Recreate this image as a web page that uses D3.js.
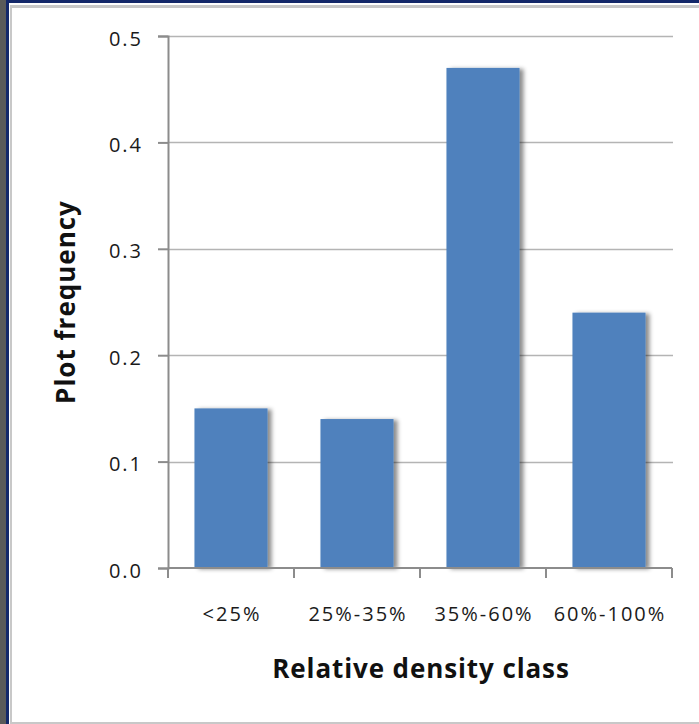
<!DOCTYPE html>
<html>
<head>
<meta charset="utf-8">
<script src="https://cdn.jsdelivr.net/npm/d3@7/dist/d3.min.js"></script>
<style>
  html, body { margin: 0; padding: 0; background: #fff; }
  svg { display: block; }
  text { font-family: "Open Sans", Lato, sans-serif; }
</style>
</head>
<body>
<svg id="chart" width="699" height="724"></svg>
<script>
// Plot frequency by relative density class
const categories = ["<25%", "25%-35%", "35%-60%", "60%-100%"];
const frequency = [0.15, 0.14, 0.47, 0.24];
const yTicks = [0.0, 0.1, 0.2, 0.3, 0.4, 0.5];

const W = 699, H = 724;
const margin = { left: 168, right: 27, top: 36, bottom: 156 };
const svg = d3.select("#chart");

// window frame along the left and top edges
svg.append("rect").attr("x", 0).attr("y", 0).attr("width", W).attr("height", H).attr("fill", "#fff");
svg.append("rect").attr("x", 0).attr("y", 0).attr("width", 6).attr("height", H).attr("fill", "#5a5a5a");
svg.append("rect").attr("x", 6).attr("y", 0).attr("width", W - 6).attr("height", 3).attr("fill", "#14286a");
svg.append("rect").attr("x", 6).attr("y", 0).attr("width", 3).attr("height", H).attr("fill", "#14286a");
svg.append("rect").attr("x", 10).attr("y", 5).attr("width", W - 10).attr("height", 3).attr("fill", "#c8c8c8");
svg.append("rect").attr("x", 10).attr("y", 5).attr("width", 2).attr("height", H).attr("fill", "#c8c8c8");
svg.append("rect").attr("x", 10).attr("y", H - 2).attr("width", W - 10).attr("height", 2).attr("fill", "#c8c8c8");

const defs = svg.append("defs");
const f = defs.append("filter").attr("id", "shadow")
  .attr("x", "-20%").attr("y", "-10%").attr("width", "150%").attr("height", "130%");
f.append("feDropShadow").attr("dx", 4).attr("dy", 1).attr("stdDeviation", 2.2)
  .attr("flood-color", "#000").attr("flood-opacity", 0.45);

const x = d3.scaleBand().domain(categories)
  .range([margin.left, W - margin.right])
  .paddingInner(0.42).paddingOuter(0.21);
const y = d3.scaleLinear().domain([0, 0.5]).range([H - margin.bottom, margin.top]);

// gridlines
svg.append("g").selectAll("line").data(yTicks.slice(1)).join("line")
  .attr("x1", margin.left).attr("x2", W - margin.right + 1)
  .attr("y1", d => Math.round(y(d)) + 0.5).attr("y2", d => Math.round(y(d)) + 0.5)
  .attr("stroke", "#b4b4b4").attr("stroke-width", 1.6);

// bars
svg.append("g").selectAll("rect").data(frequency).join("rect")
  .attr("x", (d, i) => x(categories[i]))
  .attr("width", x.bandwidth())
  .attr("y", d => y(d))
  .attr("height", d => y(0) - y(d))
  .attr("fill", "#4f81bd")
  .attr("filter", "url(#shadow)");

// y axis
const yAxis = d3.axisLeft(y).tickValues(yTicks).tickFormat(d3.format(".1f"))
  .tickSize(10).tickPadding(15);
const gy = svg.append("g").attr("transform", `translate(${margin.left},0)`).call(yAxis);
gy.select(".domain").attr("stroke", "#8c8c8c").attr("stroke-width", 2);
gy.selectAll(".tick line").attr("stroke", "#8c8c8c").attr("stroke-width", 2);
gy.selectAll("text").attr("font-size", 20).attr("fill", "#1a1a1a")
  .attr("letter-spacing", "2px").attr("dy", "0.45em");

// x axis: ticks sit on the band boundaries
const gx = svg.append("g").attr("transform", `translate(0,${y(0)})`);
gx.append("line").attr("x1", margin.left).attr("x2", W - margin.right)
  .attr("stroke", "#8c8c8c").attr("stroke-width", 2);
const bounds = categories.map(c => x(c) - x.step() * x.paddingInner() / 2)
  .concat([W - margin.right]);
gx.selectAll("line.tk").data(bounds).join("line").attr("class", "tk")
  .attr("x1", d => d).attr("x2", d => d).attr("y1", 0).attr("y2", 10)
  .attr("stroke", "#8c8c8c").attr("stroke-width", 2);
gx.selectAll("text").data(categories).join("text")
  .attr("x", d => x(d) + x.bandwidth() / 2 + 1)
  .attr("y", 53)
  .attr("text-anchor", "middle")
  .attr("font-size", 20).attr("fill", "#1a1a1a")
  .attr("letter-spacing", "2px")
  .text(d => d);

// axis titles
svg.append("text")
  .attr("x", (margin.left + W - margin.right) / 2 + 1).attr("y", 678)
  .attr("text-anchor", "middle")
  .attr("font-size", 26).attr("font-weight", "bold").attr("fill", "#111")
  .attr("letter-spacing", "0.9px")
  .text("Relative density class");
svg.append("text")
  .attr("transform", `translate(75,${(y(0) + y(0.5)) / 2}) rotate(-90)`)
  .attr("text-anchor", "middle")
  .attr("font-size", 26).attr("font-weight", "bold").attr("fill", "#111")
  .attr("letter-spacing", "1px")
  .text("Plot frequency");
</script>
</body>
</html>
